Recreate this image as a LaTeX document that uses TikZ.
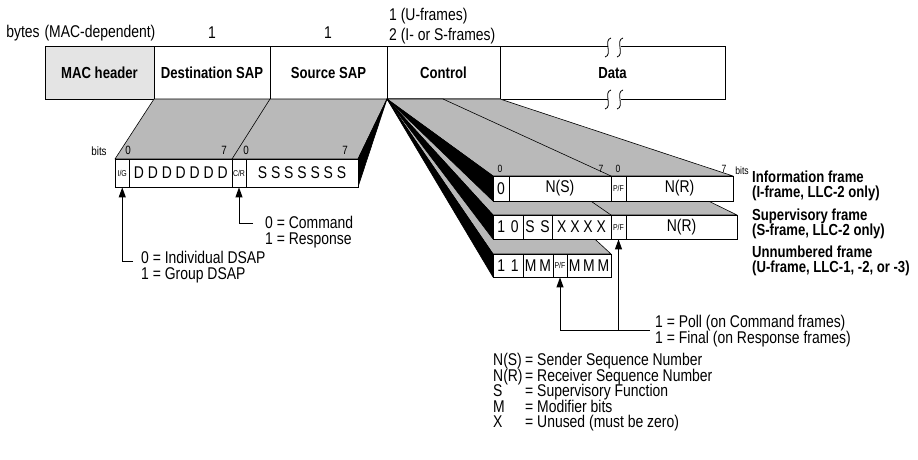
\documentclass[tikz,border=0pt]{standalone}
\usepackage{fontspec}
\setmainfont{Liberation Sans}[FakeStretch=0.82]
\usetikzlibrary{arrows.meta}
\definecolor{slabgray}{HTML}{B9B9B9}
\definecolor{macgray}{HTML}{E4E4E4}
\tikzset{
  lbl/.style={inner sep=0pt, font=\fontsize{17}{18}\selectfont},
  note/.style={inner sep=0pt, align=left, anchor=north west,
               font=\fontsize{17}{16}\selectfont\lineskiplimit-20pt},
  hdr/.style={inner sep=0pt, align=left, anchor=north west,
              font=\fontsize{16}{15.7}\selectfont\bfseries\lineskiplimit-20pt},
  topbox/.style={draw, line width=1pt, fill=white, inner sep=0pt, minimum height=52pt,
                 font=\fontsize{16}{17}\selectfont\bfseries},
  cb/.style={draw, line width=0.8pt, fill=white, inner sep=0pt,
             font=\fontsize{17}{18}\selectfont},
  tinycell/.style={font=\fontsize{8.5}{9}\selectfont},
  bitno/.style={inner sep=0pt, font=\fontsize{12}{12}\selectfont},
  bitnosm/.style={inner sep=0pt, font=\fontsize{10.5}{11}\selectfont},
  face/.style={fill=slabgray, draw=black, line width=0.6pt, line join=round},
  side/.style={fill=black, draw=black, line width=0.6pt, line join=round},
  arr/.style={line width=1pt, -{Triangle[width=7pt,length=10pt]}},
  brk/.style={line width=0.8pt},
}
\begin{document}
\begin{tikzpicture}[x=1pt,y=-1pt]
\useasboundingbox (0,0) rectangle (918,460);

% ---- byte header row ----
\node[lbl] (bytes) at (23,33) {bytes};
\node[lbl] (macdep) at (100,33) {(MAC-dependent)};
\node[lbl] (nd) at (212,33) {1};
\node[lbl] (ns) at (328,33) {1};
\node[note, font=\fontsize{17}{19.5}\selectfont\lineskiplimit-20pt] (clen) at (389,8)
  {1 (U-frames)\\2 (I- or S-frames)};

\node[topbox, fill=macgray, minimum width=109pt] (mac) at (99.5,73) {MAC header};
\node[topbox, minimum width=116pt] (dsap) at (212,73) {Destination SAP};
\node[topbox, minimum width=117pt] (ssap) at (328.5,73) {Source SAP};
\node[topbox, minimum width=113pt] (ctrl) at (443.5,73) {Control};
\node[topbox, minimum width=225pt] (data) at (612.5,73) {Data};

% break marks in the data field
\fill[white] (607.5,44) rectangle (620.5,50);
\fill[white] (607.5,96) rectangle (620.5,102);
\foreach \bx in {608,620}{
  \draw[brk] (\bx+3,38) .. controls (\bx-5,40) and (\bx+5,55) .. (\bx-3,57);
  \draw[brk] (\bx+3,90) .. controls (\bx-5,92) and (\bx+5,107) .. (\bx-3,109);
}

% ---- SAP bit fields ----
\filldraw[face] (154,99) -- (387,99) -- (358,159) -- (115,159) -- cycle;
\draw[line width=0.6pt] (270,99) -- (232,159);
\filldraw[side] (387,99) -- (358,159) -- (358,187) -- cycle;

\node[cb, tinycell, minimum width=14.5pt, minimum height=28pt] (ig) at (122.25,173) {I/G};
\node[cb, minimum width=102.5pt, minimum height=28pt] (dd) at (180.75,173) {D D D D D D D};
\node[cb, tinycell, minimum width=14pt, minimum height=28pt] (cr) at (239,173) {C/R};
\node[cb, minimum width=112pt, minimum height=28pt] (ss) at (302,173) {S S S S S S S};

\node[bitno] (lbits) at (99,151) {bits};
\node[bitno] (d0) at (128,150) {0};
\node[bitno] (d7) at (224,150) {7};
\node[bitno] (s0) at (246,150) {0};
\node[bitno] (s7) at (345,150) {7};

\node[note] (igtxt) at (141,251) {0 = Individual DSAP\\1 = Group DSAP};
\node[note] (crtxt) at (265,215.5) {0 = Command\\1 = Response};
\draw[arr] ([shift={(-8pt,-10pt)}]igtxt.north west) -| (ig.south);
\draw[arr] ([shift={(-12pt,-7.5pt)}]crtxt.north west) -| (cr.south);

% ---- control field formats ----
% U-frame
\filldraw[face] (387,99) -- (443,99) -- (611,254) -- (493,254) -- cycle;
\filldraw[side] (387,99) -- (493,254) -- (493,277) -- cycle;
\node[cb, minimum width=30pt, minimum height=23pt] (u11) at (508,265.5) {1\,\,1};
\node[cb, minimum width=30pt, minimum height=23pt] (umm) at (538,265.5) {M\,M};
\node[cb, tinycell, minimum width=14pt, minimum height=23pt] (upf) at (560,265.5) {P/F};
\node[cb, minimum width=44pt, minimum height=23pt] (ummm) at (589,265.5) {M\,M\,M};

% S-frame
\filldraw[face] (387,99) -- (500,99) -- (737,215) -- (493,215) -- cycle;
\draw[line width=0.6pt] (443,99) -- (611,215);
\filldraw[side] (387,99) -- (493,215) -- (493,239) -- cycle;
\node[cb, minimum width=30pt, minimum height=24pt] (s10) at (508,227) {1\,\,0};
\node[cb, minimum width=29pt, minimum height=24pt] (sss) at (537.5,227) {S\,\,S};
\node[cb, minimum width=59pt, minimum height=24pt] (sx) at (581.5,227) {X X X X};
\node[cb, tinycell, minimum width=15pt, minimum height=24pt] (spf) at (618.5,227) {P/F};
\node[cb, minimum width=111pt, minimum height=24pt] (snr) at (681.5,227) {N(R)};

% I-frame
\filldraw[face] (387,99) -- (500,99) -- (733,176) -- (493,176) -- cycle;
\draw[line width=0.6pt] (443,99) -- (611,176);
\filldraw[side] (387,99) -- (493,176) -- (493,201) -- cycle;
\node[cb, minimum width=16pt, minimum height=25pt] (i0) at (501,188.5) {0};
\node[cb, minimum width=102pt, minimum height=25pt] (ins) at (560,188.5) {N(S)};
\node[cb, tinycell, minimum width=15pt, minimum height=25pt] (ipf) at (618.5,188.5) {P/F};
\node[cb, minimum width=107pt, minimum height=25pt] (inr) at (679.5,188.5) {N(R)};

\node[bitnosm] (c0) at (500,169) {0};
\node[bitnosm] (c7) at (601,169) {7};
\node[bitnosm] (c8) at (618,169) {0};
\node[bitnosm] (c15) at (724,169) {7};
\node[bitnosm] (rbits) at (742,171) {bits};

\node[hdr] (fitxt) at (752,170.5) {Information frame\\(I-frame, LLC-2 only)};
\node[hdr] (fstxt) at (752,208.5) {Supervisory frame\\(S-frame, LLC-2 only)};
\node[hdr] (futxt) at (752,245.5) {Unnumbered frame\\(U-frame, LLC-1, -2, or -3)};

% poll/final bit
\node[note] (pftxt) at (655,314.5) {1 = Poll (on Command frames)\\1 = Final (on Response frames)};
\coordinate (pfj) at (650,330);
\draw[arr] (pfj) -| (upf.south);
\draw[arr] (spf.south |- pfj) -- (spf.south);

% ---- legend ----
\node[note, font=\fontsize{17}{15.5}\selectfont\lineskiplimit-20pt] (legkeys) at (493,353)
  {N(S)\\N(R)\\S\\M\\X};
\node[note, font=\fontsize{17}{15.5}\selectfont\lineskiplimit-20pt] (legvals) at (525,353)
  {= Sender Sequence Number\\= Receiver Sequence Number\\= Supervisory Function\\= Modifier bits\\= Unused (must be zero)};
\end{tikzpicture}
\end{document}
